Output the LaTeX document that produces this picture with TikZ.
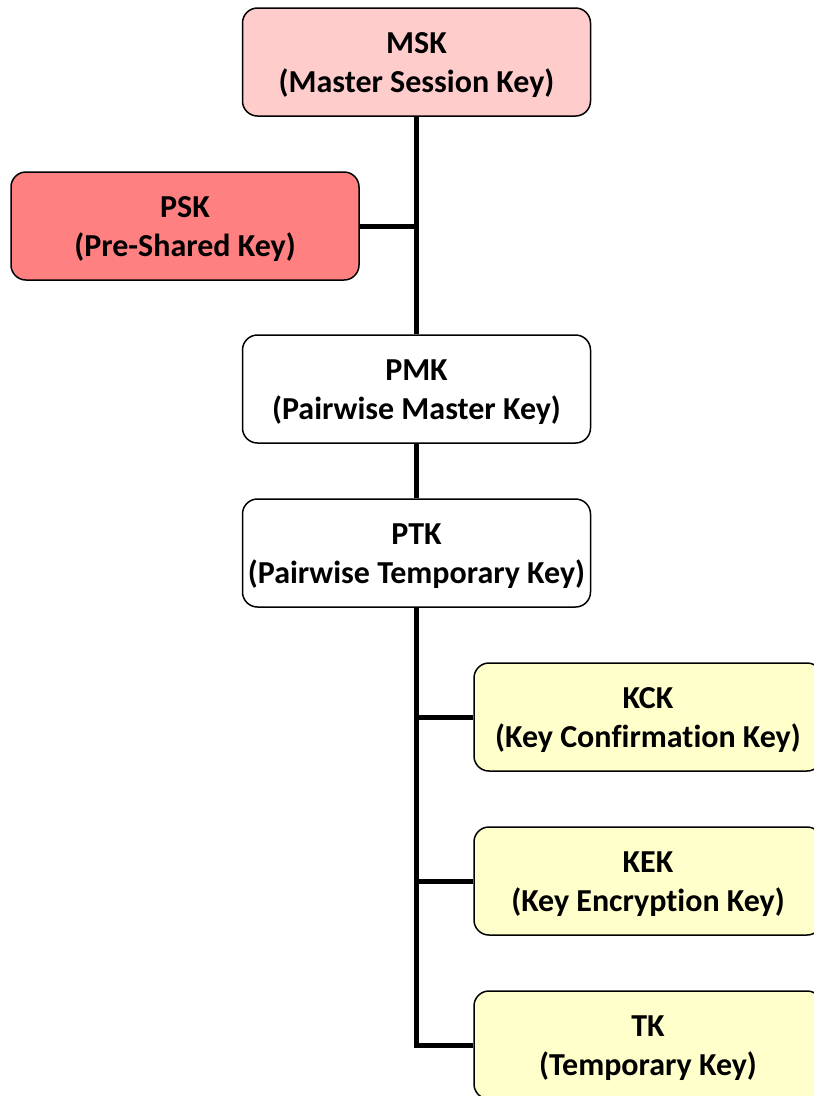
\documentclass[tikz,border=0pt]{standalone}
\usepackage{fontspec}
\setmainfont[Ligatures=NoCommon]{Carlito}
% two-line key label: acronym over its full name
\newcommand{\keylabel}[2]{\rule{0pt}{27pt}#1\\(#2)}
\begin{document}
\begin{tikzpicture}[x=1pt,y=-1pt,
  keybox/.style={draw=black, line width=1.5pt, rounded corners=15pt,
    minimum width=348pt, minimum height=108pt, align=center,
    font=\bfseries\fontsize{32}{39}\selectfont, inner sep=0pt},
  conn/.style={line width=5pt, draw=black}]
  \definecolor{mskfill}{HTML}{FFCCCC}
  \definecolor{pskfill}{HTML}{FF8080}
  \definecolor{subfill}{HTML}{FFFFCC}
  \useasboundingbox (0,0) rectangle (814,1096);
  \clip (0,0) rectangle (814,1096);
  % key hierarchy boxes
  \node[keybox, fill=mskfill] (msk) at (416.5,62) {\keylabel{MSK}{Master Session Key}};
  \node[keybox, fill=pskfill] (psk) at (185,226) {\keylabel{PSK}{Pre-Shared Key}};
  \node[keybox, fill=white] (pmk) at (416.5,389) {\keylabel{PMK}{Pairwise Master Key}};
  \node[keybox, fill=white] (ptk) at (416.5,553) {\keylabel{PTK}{Pairwise Temporary Key}};
  \node[keybox, fill=subfill] (kck) at (648,717) {\keylabel{KCK}{Key Confirmation Key}};
  \node[keybox, fill=subfill] (kek) at (648,881) {\keylabel{KEK}{Key Encryption Key}};
  \node[keybox, fill=subfill] (tk) at (648,1045) {\keylabel{TK}{Temporary Key}};
  % derivation links
  \draw[conn] (msk.south) -- (pmk.north);
  \draw[conn] (psk.east) -- (psk.east -| msk.south);
  \draw[conn] (pmk.south) -- (ptk.north);
  \draw[conn] (ptk.south) |- (tk.west);
  \draw[conn] (kck.west) -- (kck.west -| ptk.south);
  \draw[conn] (kek.west) -- (kek.west -| ptk.south);
\end{tikzpicture}
\end{document}
